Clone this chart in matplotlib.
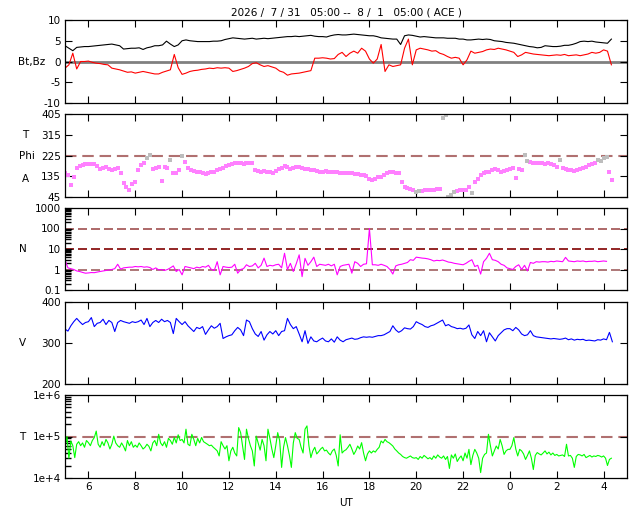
import matplotlib
matplotlib.use('Agg')
import matplotlib.pyplot as plt
from matplotlib.ticker import LogLocator, NullFormatter
import numpy as np

plt.rcParams['axes.unicode_minus'] = False

# ---- data, start 05:00 UT ----
# Bt / Bz in nT, 6 samples per hour
bt = [3.8, 3.2, 2.6, 3.4, 3.5, 3.6,   # 5
      3.6, 3.7, 3.8, 3.9, 4.0, 4.1,   # 6
      4.2, 4.0, 3.8, 3.0, 3.1, 3.2,   # 7
      3.2, 3.3, 2.9, 3.3, 3.5, 3.8,   # 8
      3.8, 4.0, 4.9, 4.2, 3.6, 4.0,   # 9
      5.0, 5.2, 5.0, 4.9, 4.8, 4.8,   # 10
      4.8, 4.8, 4.9, 4.9, 5.0, 5.3,   # 11
      5.5, 5.7, 5.6, 5.5, 5.4, 5.5,   # 12
      5.6, 5.4, 5.5, 5.6, 5.5, 5.6,   # 13
      5.7, 5.8, 5.9, 6.0, 6.0, 6.1,   # 14
      6.0, 6.1, 6.2, 6.3, 6.1, 6.0,   # 15
      6.0, 5.9, 6.2, 6.4, 6.5, 6.4,   # 16
      6.4, 6.5, 6.6, 6.5, 6.4, 6.3,   # 17
      6.2, 6.2, 6.0, 5.7, 5.6, 5.5,   # 18
      5.4, 5.4, 4.1, 6.2, 6.4, 6.3,   # 19
      6.1, 5.9, 6.0, 5.9, 5.8, 5.7,   # 20
      5.7, 5.7, 5.6, 5.6, 5.6, 5.4,   # 21
      5.4, 5.2, 5.2, 5.3, 5.4, 5.3,   # 22
      5.4, 5.3, 5.0, 4.9, 4.8, 4.6,   # 23
      4.5, 4.4, 4.2, 4.0, 3.8, 3.6,   # 0
      3.5, 3.3, 3.4, 3.8, 3.7, 3.6,   # 1
      3.6, 3.7, 3.9, 3.9, 4.1, 4.4,   # 2
      4.8, 4.9, 4.8, 4.9, 4.7, 4.6,   # 3
      4.5, 4.4, 5.4]                  # 4
bz = [-1.6, -0.8, 2.0, -1.8, 0.0, 0.0,
      0.1, -0.2, -0.4, -0.5, -0.7, -0.8,
      -1.6, -1.8, -2.0, -2.3, -2.6, -2.5,
      -2.8, -2.6, -2.4, -2.6, -2.8, -3.0,
      -3.0, -2.6, -2.3, -2.0, 1.7, -1.5,
      -3.1, -2.8, -2.4, -2.2, -2.1, -1.9,
      -1.8, -1.6, -1.7, -1.5, -1.6, -1.5,
      -1.6, -2.4, -2.2, -1.9, -1.6, -1.2,
      -0.5, -0.3, -0.8, -1.2, -1.0, -1.3,
      -1.6, -2.3, -2.6, -3.3, -3.0, -2.9,
      -2.8, -2.6, -2.4, -2.2, 0.8, 0.8,
      0.9, 0.8, 0.6, 0.7, 1.7, 2.2,
      1.2, 2.0, 2.5, 2.0, 3.2, 2.5,
      0.6, -0.4, 0.6, 4.1, -2.4, -0.8,
      -1.2, -1.0, -0.8, 3.2, 5.4, -0.8,
      2.8, 3.2, 3.0, 2.8, 2.5, 2.6,
      2.0, 1.7, 1.2, 0.8, 1.0, 0.8,
      -0.8, 0.4, 2.5, 2.0, 2.2, 2.4,
      2.8, 3.0, 2.9, 3.2, 3.0, 2.8,
      2.5, 2.2, 1.2, 1.6, 2.2, 2.0,
      1.8, 1.7, 1.6, 1.5, 1.4, 1.5,
      1.6, 1.5, 1.7, 1.4, 1.5, 1.6,
      1.4, 1.6, 1.8, 2.2, 2.0, 2.2,
      2.8, 2.5, -0.8]

# Phi angle in degrees, 8 samples per hour
phi = [150, 140, 97, 133, 169, 181, 184, 187,    # 5
       187, 187, 186, 180, 165, 170, 174, 168,   # 6
       162, 166, 170, 148, 104, 90, 75, 100,     # 7
       111, 162, 184, 194, 212, 227, 165, 172,   # 8
       177, 114, 174, 172, 205, 150, 148, 160,   # 9
       224, 198, 172, 162, 158, 155, 152, 150,   # 10
       143, 148, 152, 155, 160, 166, 172, 180,   # 11
       185, 188, 191, 192, 191, 190, 191, 193,   # 12
       194, 162, 158, 155, 156, 154, 155, 150,   # 13
       158, 165, 172, 180, 176, 166, 170, 174,   # 14
       177, 172, 168, 165, 162, 160, 157, 155,   # 15
       155, 156, 155, 154, 155, 152, 150, 151,   # 16
       148, 149, 148, 146, 144, 142, 140, 135,   # 17
       125, 119, 125, 130, 133, 140, 148, 155,   # 18
       152, 150, 148, 111, 87, 82, 78, 76,       # 19
       68, 70, 72, 75, 75, 76, 77, 78,           # 20
       78, 386, 401, 44, 55, 68, 72, 75,         # 21
       75, 76, 87, 64, 111, 125, 140, 148,       # 22
       152, 155, 162, 165, 160, 155, 158, 162,   # 23
       165, 169, 126, 165, 162, 227, 203, 198,   # 0
       194, 193, 192, 191, 190, 191, 188, 182,   # 1
       177, 205, 172, 168, 162, 160, 158, 162,   # 2
       168, 172, 177, 182, 186, 191, 205, 200,   # 3
       212, 220, 155, 119]                       # 4

# density, 8 samples per hour
dens = [3.0, 1.2, 1.1, 1.0, 0.85, 0.8, 0.72, 0.66,
        0.68, 0.71, 0.7, 0.75, 0.8, 0.85, 0.9, 0.95,
        1.0, 1.1, 1.8, 1.04, 1.2, 1.25, 1.3, 1.3,
        1.4, 1.35, 1.4, 1.3, 1.35, 1.25, 1.0, 1.2,
        0.96, 1.0, 0.9, 1.0, 1.2, 1.5, 0.8, 1.0,
        0.55, 1.4, 1.3, 1.2, 1.1, 1.3, 1.2, 1.4,
        1.3, 1.6, 1.0, 0.9, 2.4, 0.55, 1.4, 1.3,
        1.25, 1.3, 1.8, 0.66, 1.0, 1.1, 1.7, 1.4,
        1.5, 2.0, 1.2, 1.6, 3.6, 1.4, 1.6, 1.5,
        1.7, 1.8, 1.2, 6.2, 1.0, 2.0, 0.8, 1.9,
        5.2, 0.45, 3.5, 1.6, 2.4, 4.0, 1.4, 1.8,
        1.7, 1.6, 1.8, 1.5, 1.8, 0.55, 1.4, 1.6,
        1.7, 1.8, 0.66, 2.4, 2.0, 1.4, 1.8, 1.9,
        100, 1.7, 1.7, 1.6, 1.8, 1.6, 1.4, 1.0,
        0.6, 1.5, 1.7, 1.8, 2.0, 2.2, 3.0, 2.8,
        4.0, 3.8, 3.6, 3.5, 3.3, 3.0, 2.6, 2.8,
        2.7, 2.9, 2.6, 2.3, 2.2, 2.0, 1.9, 1.8,
        1.7, 2.0, 2.5, 3.0, 1.4, 1.6, 0.6, 2.4,
        3.5, 6.2, 3.0, 2.8, 2.4, 1.8, 1.6, 1.2,
        1.1, 1.0, 1.4, 1.7, 1.0, 1.6, 0.85, 2.2,
        2.0, 2.4, 2.3, 2.4, 2.4, 2.3, 2.5, 2.4,
        2.6, 2.5, 2.4, 3.9, 2.6, 2.5, 2.4, 2.6,
        2.5, 2.6, 2.4, 2.5, 2.5, 2.6, 2.4, 2.5,
        2.6, 2.5, np.nan, 1.0]

# speed km/s, 8 samples per hour
speed = [334, 329, 342, 352, 360, 352, 345, 350,
         352, 362, 340, 348, 350, 358, 345, 355,
         350, 328, 350, 355, 352, 350, 348, 352,
         350, 352, 356, 345, 360, 340, 350, 355,
         350, 358, 352, 355, 350, 323, 360, 352,
         345, 352, 342, 335, 328, 338, 335, 340,
         321, 332, 342, 336, 340, 348, 311, 315,
         318, 320, 330, 338, 332, 318, 356, 352,
         335, 322, 316, 328, 307, 320, 328, 322,
         330, 318, 328, 330, 360, 345, 335, 340,
         322, 303, 330, 299, 315, 305, 303, 308,
         312, 305, 303, 310, 302, 315, 307, 303,
         308, 310, 312, 309, 310, 313, 315, 314,
         315, 314, 316, 318, 318, 320, 324, 328,
         342, 332, 326, 330, 337, 335, 334, 340,
         352, 348, 345, 340, 338, 342, 344, 348,
         352, 356, 342, 345, 340, 338, 335, 336,
         334, 336, 344, 320, 311, 328, 318, 330,
         303, 325, 315, 305, 318, 325, 332, 335,
         335, 330, 338, 332, 322, 318, 320, 330,
         318, 315, 314, 313, 312, 311, 310, 311,
         310, 309, 310, 312, 308, 310, 307, 309,
         308, 309, 306, 307, 306, 305, 308, 307,
         310, 308, 326, 303]

# temperature in thousands of K, 12 samples per hour
temp_k = [55, 100, 30, 78, 60, 31, 65, 75, 60, 70, 55, 80,
          71, 60, 80, 94, 135, 65, 55, 75, 60, 85, 70, 50,
          65, 102, 70, 60, 55, 70, 58, 45, 80, 60, 75, 55,
          62, 55, 70, 60, 50, 55, 65, 58, 45, 70, 80, 60,
          113, 70, 60, 75, 55, 90, 80, 65, 95, 70, 110, 80,
          85, 70, 150, 65, 60, 113, 85, 60, 90, 70, 95, 75,
          70, 65, 60, 62, 55, 50, 45, 34, 75, 60, 50, 60,
          26, 45, 55, 40, 34, 164, 124, 60, 28, 150, 90, 60,
          45, 19.5, 102, 70, 47, 85, 60, 26, 150, 90, 50, 31,
          60, 124, 80, 18, 55, 94, 60, 35, 18, 70, 124, 90,
          85, 55, 40, 150, 180, 60, 31, 45, 55, 38, 43, 50,
          55, 45, 47, 40, 36, 45, 50, 35, 19.5, 110, 40, 45,
          48, 55, 65, 50, 37, 45, 59, 50, 71, 40, 26, 38,
          45, 40, 45, 42, 49, 55, 78, 70, 85, 75, 71, 65,
          59, 50, 45, 40, 37, 33, 31, 30, 32, 34, 31, 30,
          31, 28, 33, 30, 35, 32, 29, 31, 28, 34, 30, 36,
          32, 30, 34, 28, 33, 17, 36, 30, 38, 25, 30, 34,
          26, 40, 30, 49, 21, 35, 49, 40, 30, 13.5, 30, 37,
          40, 113, 60, 34, 45, 59, 50, 85, 60, 37, 45, 49,
          49, 60, 94, 50, 34, 49, 45, 38, 28, 35, 45, 30,
          16, 35, 41, 38, 36, 40, 45, 38, 42, 36, 40, 35,
          37, 34, 35, 36, 33, 65, 34, 35, 30, 18, 33, 37,
          36, 34, 37, 31, 33, 35, 32, 34, 33, 35, 34, 32,
          34, 30, 20, 28, 30]

hour_ticks = list(range(6, 29, 2))
hour_labels = [str(h % 24) for h in hour_ticks]
title = '2026 /  7 / 31   05:00 --  8 /  1   05:00 ( ACE )'


def times(vals, per_hour):
    return 5.0 + np.arange(len(vals)) / per_hour


W, H = 640, 512
fig = plt.figure(figsize=(6.4, 5.12), dpi=100)
FS = 7.5


def make_ax(top, bottom):
    ax = fig.add_axes([65 / W, 1 - bottom / H, (627 - 65) / W, (bottom - top) / H])
    ax.set_xlim(5, 29)
    ax.set_xticks(hour_ticks)
    ax.set_xticklabels(hour_labels)
    ax.tick_params(direction='in', top=True, right=True, length=5, width=0.8,
                   labelsize=FS, pad=3, labelbottom=False)
    for s in ax.spines.values():
        s.set_linewidth(0.9)
    return ax


def log_minor(ax):
    ax.yaxis.set_minor_locator(LogLocator(base=10, subs=np.arange(2, 10)))
    ax.yaxis.set_minor_formatter(NullFormatter())
    ax.tick_params(axis='y', which='minor', direction='in', left=True, right=False,
                   length=4, width=1.0)
    ax.tick_params(axis='x', which='minor', bottom=False, top=False)


def ylab(x, y, s):
    fig.text(x / W, 1 - y / H, s, fontsize=FS, ha='center', va='center')


# panel 1: Bt, Bz
ax1 = make_ax(20, 103)
ax1.axhline(0, color='#808080', lw=2, zorder=1)
ax1.plot(times(bt, 6), bt, color='black', lw=0.8, zorder=3)
ax1.plot(times(bz, 6), bz, color='red', lw=0.8, zorder=2)
ax1.set_ylim(-10, 10)
ax1.set_yticks([-10, -5, 0, 5, 10])
ax1.set_title(title, fontsize=FS, pad=3)
ylab(32, 62, 'Bt,Bz')

# panel 2: Phi
ax2 = make_ax(114, 197)
tp = times(phi, 8)
pv = np.array(phi, dtype=float)
grey = (pv >= 200) | (pv <= 70)
ax2.axhline(225, color='#b07070', lw=1.5, ls=(0, (5.5, 2.8)), zorder=1)
ax2.scatter(tp[~grey], pv[~grey], s=6, marker='s', color='#ff80ff', lw=0, zorder=2)
ax2.scatter(tp[grey], pv[grey], s=6, marker='s', color='#bdbdbd', lw=0, zorder=2)
ax2.set_ylim(45, 405)
ax2.set_yticks([45, 135, 225, 315, 405])
ylab(25, 135, 'T')
ylab(27, 156, 'Phi')
ylab(25, 179, 'A')

# panel 3: N
ax3 = make_ax(208, 290)
ax3.set_yscale('log')
dash_n = (0, (5.4, 2.4))
ax3.axhline(100, color='#a05050', lw=1.2, ls=dash_n, zorder=1)
ax3.axhline(10, color='#800000', lw=1.2, ls=dash_n, zorder=1)
ax3.axhline(1, color='#a06060', lw=1.2, ls=dash_n, zorder=1)
ax3.plot(times(dens, 8), dens, color='#ff00ff', lw=0.8, zorder=2)
ax3.set_ylim(0.1, 1000)
ax3.set_yticks([0.1, 1, 10, 100, 1000])
ax3.set_yticklabels(['0.1', '1', '10', '100', '1000'])
log_minor(ax3)
ylab(23, 249, 'N')

# panel 4: V
ax4 = make_ax(302, 384)
ax4.plot(times(speed, 8), speed, color='#0000ff', lw=0.8)
ax4.set_ylim(200, 400)
ax4.set_yticks([200, 300, 400])
ylab(22, 343, 'V')

# panel 5: T
ax5 = make_ax(395, 478)
ax5.set_yscale('log')
ax5.axhline(1e5, color='#b07070', lw=1.5, ls=(0, (5.5, 2.8)), zorder=1)
ax5.plot(times(temp_k, 12), np.array(temp_k) * 1000, color='#00ff00', lw=0.8, zorder=2)
ax5.set_ylim(1e4, 1e6)
ax5.set_yticks([1e4, 1e5, 1e6])
ax5.set_yticklabels(['1e+4', '1e+5', '1e+6'])
log_minor(ax5)
ax5.tick_params(axis='x', labelbottom=True)
ax5.set_xlabel('UT', fontsize=FS, labelpad=4)
ylab(22, 437, 'T')

fig.savefig('out.png', dpi=100)
